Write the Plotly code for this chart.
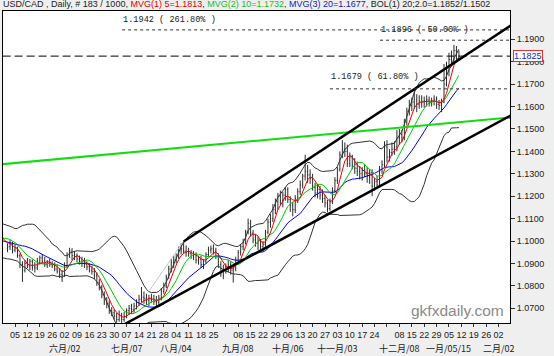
import plotly.graph_objects as go
import pandas as pd

# ---------------- data ----------------
# closes before the first visible bar (used only to seed the moving averages)
warmup_close = [1.1030, 1.1040, 1.1025, 1.1030, 1.1035, 1.0985, 1.0945, 1.0925, 1.0915, 1.0950,
                1.0985, 1.0995, 1.1015, 1.1040, 1.1030, 1.1035, 1.1005, 1.1025, 1.1000, 1.1010,
                1.0965]

bar_open = [
    1.0965, 1.0975, 1.0990, 1.0960, 1.0970, 1.0935, 1.0895, 1.0870, 1.0900, 1.0890,
    1.0910, 1.0885, 1.0880, 1.0905, 1.0925, 1.0910, 1.0895, 1.0905, 1.0895, 1.0890,
    1.0875, 1.0865, 1.0850, 1.0845, 1.0890, 1.0935, 1.0955, 1.0935, 1.0930, 1.0920,
    1.0910, 1.0900, 1.0895, 1.0885, 1.0870, 1.0865, 1.0845, 1.0815, 1.0795, 1.0760,
    1.0730, 1.0720, 1.0690, 1.0680, 1.0665, 1.0650, 1.0670, 1.0650, 1.0665, 1.0690,
    1.0700, 1.0695, 1.0710, 1.0725, 1.0740, 1.0750, 1.0745, 1.0735, 1.0745, 1.0740,
    1.0730, 1.0725, 1.0745, 1.0775, 1.0800, 1.0840, 1.0875, 1.0905, 1.0915, 1.0930,
    1.0960, 1.0965, 1.0955, 1.0950, 1.0945, 1.0935, 1.0940, 1.0915, 1.0920, 1.0895,
    1.0910, 1.0940, 1.0960, 1.0965, 1.0955, 1.0930, 1.0895, 1.0865, 1.0870, 1.0885,
    1.0895, 1.0870, 1.0880, 1.0915, 1.0950, 1.0975, 1.0995, 1.1040, 1.1080, 1.1035,
    1.1005, 1.0990, 1.1000, 1.0975, 1.0985, 1.1040, 1.1085, 1.1100, 1.1140, 1.1175,
    1.1200, 1.1180, 1.1205, 1.1230, 1.1185, 1.1160, 1.1140, 1.1190, 1.1220, 1.1250,
    1.1290, 1.1310, 1.1295, 1.1280, 1.1240, 1.1215, 1.1230, 1.1205, 1.1190, 1.1170,
    1.1145, 1.1175, 1.1225, 1.1270, 1.1320, 1.1385, 1.1410, 1.1400, 1.1345, 1.1375,
    1.1340, 1.1325, 1.1310, 1.1300, 1.1315, 1.1300, 1.1290, 1.1305, 1.1245, 1.1265,
    1.1250, 1.1320, 1.1340, 1.1420, 1.1375, 1.1395, 1.1410, 1.1420, 1.1460, 1.1475,
    1.1460, 1.1530, 1.1580, 1.1605, 1.1620, 1.1630, 1.1610, 1.1625, 1.1620, 1.1625,
    1.1630, 1.1615, 1.1625, 1.1630, 1.1610, 1.1605, 1.1620, 1.1700, 1.1760, 1.1810,
    1.1800, 1.1850, 1.1815]

bar_high = [
    1.0990, 1.1005, 1.0998, 1.0985, 1.0975, 1.0945, 1.0910, 1.0915, 1.0925, 1.0920,
    1.0918, 1.0905, 1.0925, 1.0935, 1.0940, 1.0930, 1.0915, 1.0920, 1.0910, 1.0905,
    1.0895, 1.0880, 1.0870, 1.0905, 1.0950, 1.0970, 1.0968, 1.0955, 1.0945, 1.0935,
    1.0930, 1.0925, 1.0910, 1.0900, 1.0890, 1.0880, 1.0860, 1.0830, 1.0805, 1.0775,
    1.0750, 1.0735, 1.0705, 1.0695, 1.0680, 1.0690, 1.0680, 1.0685, 1.0700, 1.0715,
    1.0720, 1.0725, 1.0740, 1.0760, 1.0795, 1.0775, 1.0765, 1.0760, 1.0765, 1.0760,
    1.0755, 1.0760, 1.0790, 1.0815, 1.0850, 1.0890, 1.0920, 1.0935, 1.0945, 1.0975,
    1.0990, 1.0998, 1.0980, 1.0970, 1.0960, 1.0955, 1.0950, 1.0935, 1.0935, 1.0920,
    1.0950, 1.0975, 1.0980, 1.0985, 1.0970, 1.0945, 1.0910, 1.0895, 1.0900, 1.0915,
    1.0910, 1.0895, 1.0930, 1.0960, 1.0985, 1.1010, 1.1050, 1.1100, 1.1095, 1.1050,
    1.1030, 1.1020, 1.1010, 1.1000, 1.1050, 1.1100, 1.1120, 1.1165, 1.1190, 1.1215,
    1.1225, 1.1220, 1.1240, 1.1240, 1.1200, 1.1175, 1.1205, 1.1235, 1.1270, 1.1300,
    1.1385, 1.1340, 1.1320, 1.1300, 1.1260, 1.1250, 1.1245, 1.1230, 1.1205, 1.1185,
    1.1190, 1.1240, 1.1285, 1.1330, 1.1400, 1.1450, 1.1440, 1.1430, 1.1395, 1.1385,
    1.1370, 1.1355, 1.1335, 1.1330, 1.1345, 1.1330, 1.1320, 1.1320, 1.1280, 1.1290,
    1.1335, 1.1360, 1.1445, 1.1450, 1.1410, 1.1440, 1.1445, 1.1495, 1.1500, 1.1495,
    1.1545, 1.1595, 1.1630, 1.1640, 1.1680, 1.1655, 1.1650, 1.1650, 1.1645, 1.1650,
    1.1645, 1.1640, 1.1650, 1.1645, 1.1630, 1.1635, 1.1790, 1.1800, 1.1840, 1.1850,
    1.1875, 1.1870, 1.1850]

bar_low = [
    1.0950, 1.0960, 1.0945, 1.0950, 1.0925, 1.0880, 1.0818, 1.0860, 1.0880, 1.0870,
    1.0868, 1.0860, 1.0870, 1.0895, 1.0900, 1.0885, 1.0880, 1.0885, 1.0880, 1.0865,
    1.0855, 1.0835, 1.0818, 1.0840, 1.0880, 1.0925, 1.0915, 1.0915, 1.0905, 1.0895,
    1.0885, 1.0880, 1.0870, 1.0860, 1.0850, 1.0830, 1.0800, 1.0780, 1.0745, 1.0715,
    1.0700, 1.0675, 1.0665, 1.0650, 1.0635, 1.0640, 1.0620, 1.0640, 1.0655, 1.0670,
    1.0675, 1.0680, 1.0695, 1.0710, 1.0725, 1.0720, 1.0715, 1.0710, 1.0725, 1.0715,
    1.0710, 1.0715, 1.0735, 1.0765, 1.0790, 1.0830, 1.0860, 1.0880, 1.0900, 1.0920,
    1.0940, 1.0945, 1.0930, 1.0930, 1.0920, 1.0915, 1.0900, 1.0895, 1.0880, 1.0875,
    1.0900, 1.0930, 1.0945, 1.0940, 1.0920, 1.0880, 1.0840, 1.0830, 1.0855, 1.0860,
    1.0850, 1.0815, 1.0865, 1.0905, 1.0935, 1.0960, 1.0985, 1.1030, 1.1020, 1.0990,
    1.0975, 1.0960, 1.0955, 1.0955, 1.0975, 1.1030, 1.1060, 1.1085, 1.1120, 1.1140,
    1.1160, 1.1150, 1.1180, 1.1170, 1.1130, 1.1110, 1.1125, 1.1170, 1.1205, 1.1235,
    1.1270, 1.1260, 1.1255, 1.1225, 1.1195, 1.1190, 1.1185, 1.1170, 1.1150, 1.1128,
    1.1135, 1.1165, 1.1215, 1.1255, 1.1310, 1.1370, 1.1375, 1.1330, 1.1330, 1.1320,
    1.1300, 1.1290, 1.1275, 1.1270, 1.1285, 1.1260, 1.1255, 1.1200, 1.1225, 1.1235,
    1.1240, 1.1300, 1.1330, 1.1350, 1.1355, 1.1380, 1.1385, 1.1400, 1.1430, 1.1440,
    1.1450, 1.1515, 1.1560, 1.1580, 1.1590, 1.1575, 1.1590, 1.1595, 1.1595, 1.1600,
    1.1600, 1.1600, 1.1605, 1.1590, 1.1585, 1.1575, 1.1615, 1.1690, 1.1735, 1.1780,
    1.1790, 1.1800, 1.1805]

bar_close = [
    1.0975, 1.0990, 1.0960, 1.0970, 1.0935, 1.0895, 1.0870, 1.0900, 1.0890, 1.0910,
    1.0885, 1.0880, 1.0905, 1.0925, 1.0910, 1.0895, 1.0905, 1.0895, 1.0890, 1.0875,
    1.0865, 1.0850, 1.0845, 1.0890, 1.0935, 1.0955, 1.0935, 1.0930, 1.0920, 1.0910,
    1.0900, 1.0895, 1.0885, 1.0870, 1.0865, 1.0845, 1.0815, 1.0795, 1.0760, 1.0730,
    1.0720, 1.0690, 1.0680, 1.0665, 1.0650, 1.0670, 1.0650, 1.0665, 1.0690, 1.0700,
    1.0695, 1.0710, 1.0725, 1.0740, 1.0750, 1.0745, 1.0735, 1.0745, 1.0740, 1.0730,
    1.0725, 1.0745, 1.0775, 1.0800, 1.0840, 1.0875, 1.0905, 1.0915, 1.0930, 1.0960,
    1.0965, 1.0955, 1.0950, 1.0945, 1.0935, 1.0940, 1.0915, 1.0920, 1.0895, 1.0910,
    1.0940, 1.0960, 1.0965, 1.0955, 1.0930, 1.0895, 1.0865, 1.0870, 1.0885, 1.0895,
    1.0870, 1.0880, 1.0915, 1.0950, 1.0975, 1.0995, 1.1040, 1.1080, 1.1035, 1.1005,
    1.0990, 1.1000, 1.0975, 1.0985, 1.1040, 1.1085, 1.1100, 1.1140, 1.1175, 1.1200,
    1.1180, 1.1205, 1.1230, 1.1185, 1.1160, 1.1140, 1.1190, 1.1220, 1.1250, 1.1290,
    1.1310, 1.1295, 1.1280, 1.1240, 1.1215, 1.1230, 1.1205, 1.1190, 1.1170, 1.1145,
    1.1175, 1.1225, 1.1270, 1.1320, 1.1385, 1.1410, 1.1400, 1.1345, 1.1375, 1.1340,
    1.1325, 1.1310, 1.1300, 1.1315, 1.1300, 1.1290, 1.1305, 1.1245, 1.1265, 1.1250,
    1.1320, 1.1340, 1.1420, 1.1375, 1.1395, 1.1410, 1.1420, 1.1460, 1.1475, 1.1460,
    1.1530, 1.1580, 1.1605, 1.1620, 1.1630, 1.1610, 1.1625, 1.1620, 1.1625, 1.1630,
    1.1615, 1.1625, 1.1630, 1.1610, 1.1605, 1.1620, 1.1700, 1.1760, 1.1810, 1.1800,
    1.1850, 1.1815, 1.1825]

# weekly (Monday) tick labels; first Monday is bar #3
week_day_labels = ["05", "12", "19", "26", "02", "09", "16", "23", "30", "07",
                   "14", "21", "28", "04", "11", "18", "25", "", "08", "15",
                   "22", "29", "06", "13", "20", "27", "03", "10", "17", "24",
                   "", "08", "15", "22", "29", "05", "12", "19", "26", "02"]
month_labels = {4: "六月/02", 9: "七月/07", 13: "八月/04", 18: "九月/08", 22: "十月/06",
                26: "十一月/03", 31: "十二月/08", 35: "一月/05/15", 39: "二月/02"}
first_monday_bar = 3

price_ticks = [1.07, 1.08, 1.09, 1.10, 1.11, 1.12, 1.13, 1.14, 1.15, 1.16, 1.17, 1.18, 1.19]
last_price = 1.1825

# drawn trend lines (bar index, price)
channel_upper = ([71, 203], [1.0998, 1.1962])
channel_lower = ([46, 203], [1.0622, 1.1561])
green_trend = ([-2, 203], [1.1343, 1.1552])
grey_trend = ([57.4, 70.7], [1.0782, 1.0996])

# fibonacci levels: (price, label, start bar)
fib_levels = [(1.1942, "1.1942 ( 261.80% )", 46.2),
              (1.1896, "1.1896 ( 50.00% )", 150.2),
              (1.1679, "1.1679 ( 61.80% )", 130.0)]
fib_label_price = [1.1986, 1.1942, 1.1732]

# ---------------- figure ----------------
n = len(bar_close)
xs = list(range(n))
all_close = pd.Series(warmup_close + bar_close)
all_x = list(range(-len(warmup_close), n))
ma5 = all_close.rolling(5).mean()
ma10 = all_close.rolling(10).mean()
ma20 = all_close.rolling(20).mean()
sd20 = all_close.rolling(20).std(ddof=0)
bb_up = ma20 + 2 * sd20
bb_dn = ma20 - 2 * sd20

fig = go.Figure()

fig.add_trace(go.Ohlc(x=xs, open=bar_open, high=bar_high, low=bar_low, close=bar_close,
                      increasing=dict(line=dict(color="#2a2a2a", width=1)),
                      decreasing=dict(line=dict(color="#2a2a2a", width=1)),
                      tickwidth=0.3, hoverinfo="skip", showlegend=False))

def line(x, y, color, width, dash="solid"):
    fig.add_trace(go.Scatter(x=list(x), y=list(y), mode="lines",
                             line=dict(color=color, width=width, dash=dash),
                             hoverinfo="skip", showlegend=False))

line(all_x, bb_up, "#333333", 1)
line(all_x, bb_dn, "#333333", 1)
line(all_x, ma20, "#0000ee", 1)
line(all_x, ma10, "#00cc00", 1)
line(all_x, ma5, "#ee0000", 1)

line(*grey_trend, "#c8c8c8", 1)
line(*green_trend, "#11dd11", 2)
line(*channel_upper, "#000000", 2.5)
line(*channel_lower, "#000000", 2.5)

# last price dashed line
line([-2, 203], [last_price, last_price], "#000000", 1, "8px,4px")
for price, label, start in fib_levels:
    line([start, 203], [price, price], "#333333", 1, "3px,3px")

annotations = []
for (price, label, start), lp in zip(fib_levels, fib_label_price):
    annotations.append(dict(x=start, y=lp, xref="x", yref="y", text=label, showarrow=False,
                            xanchor="left", yanchor="middle", borderpad=0,
                            font=dict(family="Liberation Mono, Courier New", size=8.6, color="#222222")))

for k, lab in month_labels.items():
    annotations.append(dict(x=first_monday_bar + 5 * k, y=-25 / 312, xref="x", yref="paper",
                            text=lab, showarrow=False, xanchor="center", yanchor="middle",
                            font=dict(family="Noto Sans CJK SC", size=9, color="#222222")))

title_html = ("USD/CAD , Daily, # 183 / 1000, "
              "<span style='color:#e00000'>MVG(1) 5=1.1813</span>, "
              "<span style='color:#22c022'>MVG(2) 10=1.1732</span>, "
              "<span style='color:#2020c0'>MVG(3) 20=1.1677</span>, "
              "BOL(1) 20;2.0=1.1852/1.1502")
annotations.append(dict(x=0, y=1, xref="paper", yref="paper", text=title_html, showarrow=False,
                        xanchor="left", yanchor="bottom", xshift=-2, yshift=0,
                        font=dict(family="Liberation Sans, Arial", size=9, color="#222222")))

annotations.append(dict(x=1, y=last_price, xref="paper", yref="y", text="1.1825", showarrow=False,
                        xanchor="left", yanchor="middle", xshift=3, bgcolor="#ffffff",
                        bordercolor="#e03030", borderwidth=1, borderpad=0,
                        font=dict(family="Liberation Sans, Arial", size=9, color="#2020d0")))

annotations.append(dict(x=1, y=0, xref="paper", yref="paper", text="gkfxdaily.com", showarrow=False,
                        xanchor="right", yanchor="bottom", xshift=-4, yshift=2,
                        font=dict(family="Liberation Sans, Arial", size=15.5, color="#8a8a8a")))

fig.update_layout(
    width=554, height=356,
    margin=dict(l=3, r=44, t=11, b=33),
    paper_bgcolor="#efefef", plot_bgcolor="#ffffff",
    showlegend=False,
    annotations=annotations,
    font=dict(family="Liberation Sans, Arial", size=9, color="#222222"),
    xaxis=dict(range=[-1.84, 202.6], rangeslider=dict(visible=False),
               tickvals=[first_monday_bar + 5 * k for k in range(len(week_day_labels))],
               ticktext=week_day_labels, ticks="outside", ticklen=3, tickcolor="#333",
               showgrid=False, zeroline=False, showline=True, linecolor="#000", linewidth=1,
               mirror=True, tickfont=dict(size=9), tickangle=0),
    yaxis=dict(range=[1.06344, 1.20263], side="right", tickvals=price_ticks,
               ticktext=[f"{v:.4f}" for v in price_ticks], ticks="outside", ticklen=4,
               tickcolor="#333", showgrid=False, zeroline=False, showline=True,
               linecolor="#000", linewidth=1, mirror=True, tickfont=dict(size=9)),
)

fig.write_html("out.html")
